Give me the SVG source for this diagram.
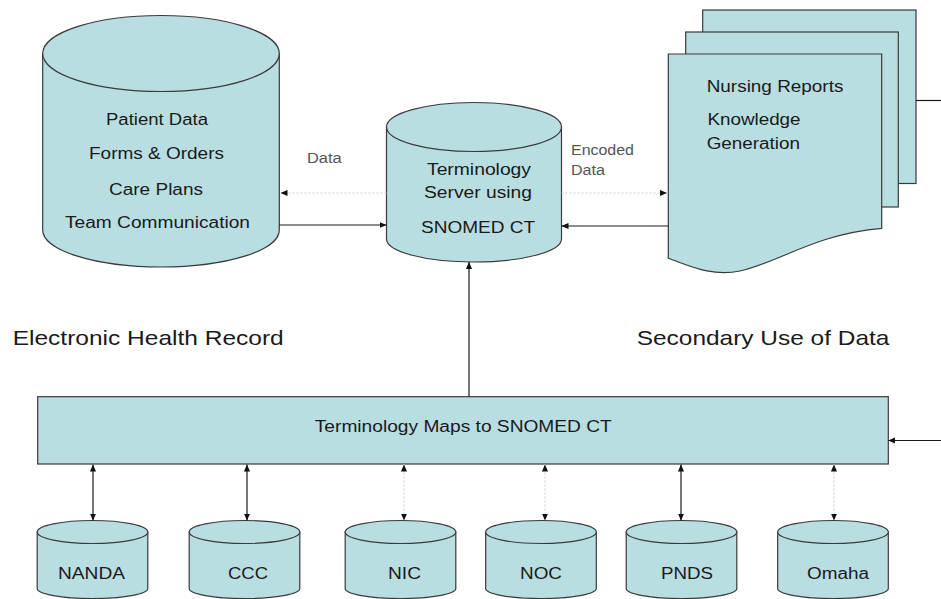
<svg xmlns="http://www.w3.org/2000/svg" width="941" height="599" viewBox="0 0 941 599">
<style>
.shape{fill:#b9dee2;stroke:#3a3a3a;stroke-width:1.2}
.t{font-family:"Liberation Sans",Arial,sans-serif;font-size:16px;fill:#1a1a1a}
.big{font-size:21px}
.lbl{font-size:14px;fill:#555}
.solid{fill:none;stroke:#1a1a1a;stroke-width:1.2}
.dot{fill:none;stroke:#d2d2d2;stroke-width:1.2;stroke-dasharray:2 2}
</style>
<defs>
<marker id="ah" viewBox="0 0 8 8" refX="8" refY="4" markerWidth="7" markerHeight="7" markerUnits="userSpaceOnUse" orient="auto-start-reverse">
<path d="M0,0.5 L8,4 L0,7.5 z" fill="#111"/>
</marker>
</defs>
<rect width="941" height="599" fill="#fff"/>

<g id="ehr">
<path class="shape" d="M42.7,53.5 V230 A118.3,37 0 0 0 279.3,230 V53.5 Z"/>
<ellipse class="shape" cx="161" cy="53.5" rx="118.3" ry="38"/>
<text class="t" x="157" y="125" text-anchor="middle" textLength="102" lengthAdjust="spacingAndGlyphs">Patient Data</text>
<text class="t" x="156.5" y="159" text-anchor="middle" textLength="135" lengthAdjust="spacingAndGlyphs">Forms &amp; Orders</text>
<text class="t" x="156" y="195" text-anchor="middle" textLength="94" lengthAdjust="spacingAndGlyphs">Care Plans</text>
<text class="t" x="157.5" y="228" text-anchor="middle" textLength="185" lengthAdjust="spacingAndGlyphs">Team Communication</text>
</g>

<g id="server">
<path class="shape" d="M386.5,127 V239 A87.5,23 0 0 0 561.5,239 V127 Z"/>
<ellipse class="shape" cx="474" cy="127" rx="87.5" ry="24.5"/>
<text class="t" x="479" y="175" text-anchor="middle" textLength="104" lengthAdjust="spacingAndGlyphs">Terminology</text>
<text class="t" x="478" y="198" text-anchor="middle" textLength="108" lengthAdjust="spacingAndGlyphs">Server using</text>
<text class="t" x="478" y="233" text-anchor="middle" textLength="114" lengthAdjust="spacingAndGlyphs">SNOMED CT</text>
</g>

<g id="reports">
<rect class="shape" x="702.7" y="10" width="213.3" height="173.5"/>
<rect class="shape" x="685.7" y="32" width="212.6" height="175"/>
<path class="shape" d="M668.3,54 H881.7 V228.3 C815,234 780,262 740,271 C712,277 690,266 668.3,258.3 Z"/>
<text class="t" x="706.7" y="92" textLength="136.7" lengthAdjust="spacingAndGlyphs">Nursing Reports</text>
<text class="t" x="707.5" y="125" textLength="93" lengthAdjust="spacingAndGlyphs">Knowledge</text>
<text class="t" x="706.7" y="148.5" textLength="93.3" lengthAdjust="spacingAndGlyphs">Generation</text>
</g>

<g id="maps">
<rect class="shape" x="37.7" y="396.7" width="850.6" height="67.3"/>
<text class="t" x="463.3" y="432" text-anchor="middle" textLength="297" lengthAdjust="spacingAndGlyphs">Terminology Maps to SNOMED CT</text>
</g>

<g id="nanda">
<path class="shape" d="M37.2,532 V588.5 A55.3,10 0 0 0 147.8,588.5 V532 Z"/>
<ellipse class="shape" cx="92.5" cy="532" rx="55.3" ry="11.5"/>
<text class="t" x="91.5" y="579" text-anchor="middle" textLength="67" lengthAdjust="spacingAndGlyphs">NANDA</text>
</g>
<g id="ccc">
<path class="shape" d="M189.2,532 V588.5 A55.3,10 0 0 0 299.8,588.5 V532 Z"/>
<ellipse class="shape" cx="244.5" cy="532" rx="55.3" ry="11.5"/>
<text class="t" x="248" y="579" text-anchor="middle" textLength="40" lengthAdjust="spacingAndGlyphs">CCC</text>
</g>
<g id="nic">
<path class="shape" d="M345.2,532 V588.5 A55.3,10 0 0 0 455.8,588.5 V532 Z"/>
<ellipse class="shape" cx="400.5" cy="532" rx="55.3" ry="11.5"/>
<text class="t" x="404.5" y="579" text-anchor="middle" textLength="33" lengthAdjust="spacingAndGlyphs">NIC</text>
</g>
<g id="noc">
<path class="shape" d="M485.7,532 V588.5 A55.3,10 0 0 0 596.3,588.5 V532 Z"/>
<ellipse class="shape" cx="541" cy="532" rx="55.3" ry="11.5"/>
<text class="t" x="541" y="579" text-anchor="middle" textLength="42" lengthAdjust="spacingAndGlyphs">NOC</text>
</g>
<g id="pnds">
<path class="shape" d="M626.2,532 V588.5 A55.3,10 0 0 0 736.8,588.5 V532 Z"/>
<ellipse class="shape" cx="681.5" cy="532" rx="55.3" ry="11.5"/>
<text class="t" x="687" y="579" text-anchor="middle" textLength="52" lengthAdjust="spacingAndGlyphs">PNDS</text>
</g>
<g id="omaha">
<path class="shape" d="M777.7,532 V588.5 A55.3,10 0 0 0 888.3,588.5 V532 Z"/>
<ellipse class="shape" cx="833" cy="532" rx="55.3" ry="11.5"/>
<text class="t" x="838" y="579" text-anchor="middle" textLength="62" lengthAdjust="spacingAndGlyphs">Omaha</text>
</g>

<g id="labels">
<text class="t big" x="12.7" y="345" textLength="271" lengthAdjust="spacingAndGlyphs">Electronic Health Record</text>
<text class="t big" x="636.7" y="345" textLength="252.7" lengthAdjust="spacingAndGlyphs">Secondary Use of Data</text>
</g>

<g id="connectors">
<path class="solid" d="M279.3,225 H386.5" marker-end="url(#ah)"/>
<path class="dot" d="M386.5,193 H280.5" marker-end="url(#ah)"/>
<path class="solid" d="M668.3,226 H561.5" marker-end="url(#ah)"/>
<path class="dot" d="M561.5,193 H667" marker-end="url(#ah)"/>
<path class="solid" d="M469,396.7 V262" marker-end="url(#ah)"/>
<path class="solid" d="M916,100.5 H941"/>
<path class="solid" d="M941,440.5 H888.3" marker-end="url(#ah)"/>
<path class="solid" d="M93,464.5 V520.5" marker-start="url(#ah)" marker-end="url(#ah)"/>
<path class="solid" d="M247,464.5 V520.5" marker-start="url(#ah)" marker-end="url(#ah)"/>
<path class="dot" d="M404,464.5 V520.5" marker-start="url(#ah)" marker-end="url(#ah)"/>
<path class="dot" d="M545,464.5 V520.5" marker-start="url(#ah)" marker-end="url(#ah)"/>
<path class="solid" d="M681,464.5 V520.5" marker-start="url(#ah)" marker-end="url(#ah)"/>
<path class="dot" d="M834,464.5 V520.5" marker-start="url(#ah)" marker-end="url(#ah)"/>
<text class="t lbl" x="307" y="163.3" textLength="34.7" lengthAdjust="spacingAndGlyphs">Data</text>
<text class="t lbl" x="571" y="155" textLength="63" lengthAdjust="spacingAndGlyphs">Encoded</text>
<text class="t lbl" x="571" y="175" textLength="34" lengthAdjust="spacingAndGlyphs">Data</text>
</g>
</svg>
